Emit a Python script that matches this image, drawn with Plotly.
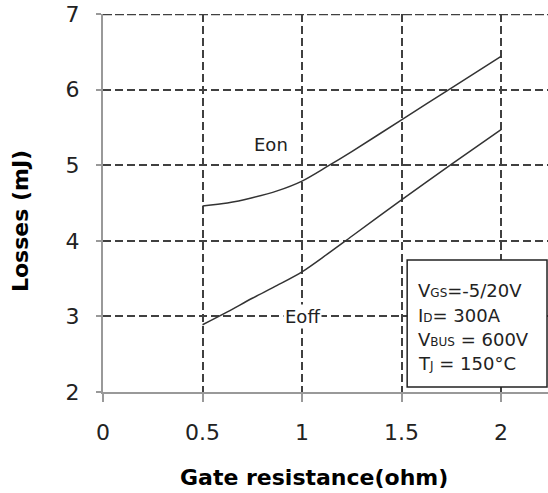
import plotly.graph_objects as go

rg = [0.5, 0.625, 0.75, 0.875, 1.0, 1.125, 1.25, 1.5, 1.75, 2.0]
eon = [4.46, 4.50, 4.57, 4.66, 4.79, 4.98, 5.18, 5.60, 6.02, 6.44]
eoff = [2.89, 3.06, 3.24, 3.41, 3.59, 3.82, 4.06, 4.54, 5.01, 5.47]
x_ticks = [0, 0.5, 1, 1.5, 2]
x_tick_text = ["0", "0.5", "1", "1.5", "2"]
y_ticks = [2, 3, 4, 5, 6, 7]
cond_lines = [
    "V<span style='font-size:12px'>GS</span>=-5/20V",
    "I<span style='font-size:12px'>D</span>= 300A",
    "V<span style='font-size:12px'>BUS</span> = 600V",
    "T<span style='font-size:12px'>J</span> = 150°C",
]

FONT = "DejaVu Sans"
fig = go.Figure()
for ys in (eon, eoff):
    fig.add_trace(go.Scatter(x=rg, y=ys, mode="lines",
                             line=dict(color="#333333", width=1.5, shape="spline", smoothing=0.8),
                             showlegend=False, hoverinfo="skip"))

grid = dict(showgrid=True, gridcolor="#404040", gridwidth=2, griddash="8px,4px")
fig.update_xaxes(range=[0, 2.236], tickvals=x_ticks, ticktext=x_tick_text,
                 showline=True, linecolor="#999999", linewidth=2,
                 ticks="outside", ticklen=8, tickcolor="#999999", tickwidth=2,
                 tickfont=dict(family=FONT, size=22, color="#222222"),
                 ticklabelstandoff=12, zeroline=False, **grid)
fig.update_yaxes(range=[2, 7], tickvals=y_ticks,
                 showline=True, linecolor="#999999", linewidth=2,
                 ticks="outside", ticklen=5, tickcolor="#999999", tickwidth=2,
                 tickfont=dict(family=FONT, size=22, color="#222222"),
                 ticklabelstandoff=12, zeroline=False, **grid)

# top gridline at y = 7 (edge of the plotting area)
fig.add_shape(type="line", xref="paper", yref="y", x0=0, x1=1, y0=7, y1=7,
              line=dict(color="#404040", width=2.5, dash="9px,3px"), layer="below")

# conditions box
fig.add_shape(type="rect", xref="paper", yref="paper",
              x0=0.6835, x1=0.9978, y0=0.0132, y1=0.349,
              line=dict(color="#222222", width=1.5), fillcolor="white", layer="above")
line_y = [290, 315, 339, 363]
for txt, py in zip(cond_lines, line_y):
    fig.add_annotation(text=txt, xref="paper", yref="paper",
                       x=(416 - 102.5) / 445.5, y=(392 - py) / 378,
                       xanchor="left", yanchor="middle", showarrow=False,
                       font=dict(family=FONT, size=18, color="#222222"))

fig.add_annotation(text="Eon", x=0.846, y=5.28, showarrow=False,
                   font=dict(family=FONT, size=18, color="#222222"))
fig.add_annotation(text="Eoff", x=1.001, y=3.005, showarrow=False, bgcolor="white",
                   font=dict(family=FONT, size=18, color="#222222"))

fig.add_annotation(text="<b>Gate resistance(ohm)</b>", xref="paper", yref="paper",
                   x=(314 - 102.5) / 445.5, y=(392 - 477) / 378, showarrow=False,
                   xanchor="center", yanchor="middle",
                   font=dict(family=FONT, size=22, color="#000000"))
fig.add_annotation(text="<b>Losses (mJ)</b>", xref="paper", yref="paper",
                   x=(20 - 102.5) / 445.5, y=(392 - 221.5) / 378, showarrow=False,
                   textangle=-90, xanchor="center", yanchor="middle",
                   font=dict(family=FONT, size=22, color="#000000"))

fig.update_layout(width=548, height=493, plot_bgcolor="white", paper_bgcolor="white",
                  margin=dict(l=102.5, r=0, t=14, b=101))
fig.write_html("out.html")
